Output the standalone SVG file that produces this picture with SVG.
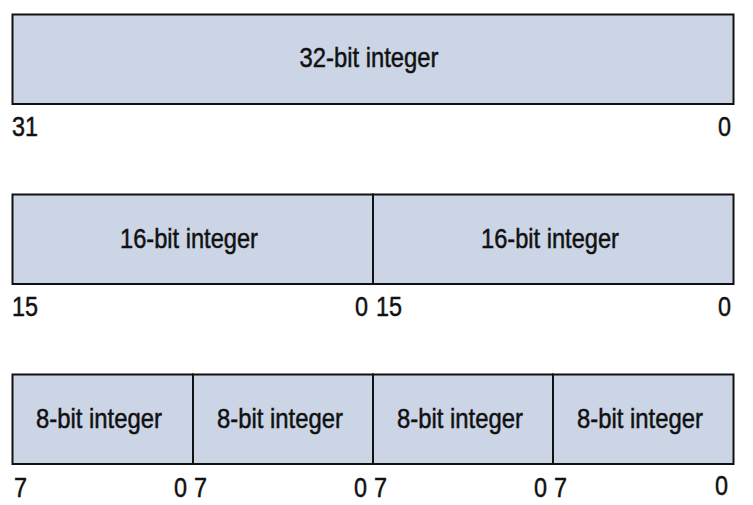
<svg xmlns="http://www.w3.org/2000/svg" width="753" height="505" viewBox="0 0 753 505">
  <style>
    .cell { fill: #cbd5e6; stroke: #111; stroke-width: 2; }
    .lbl, .num { font-family: "Liberation Sans", Arial, sans-serif; font-size: 28px; fill: #111; stroke: #111; stroke-width: 0.5; }
    .lbl { text-anchor: middle; }
    .end { text-anchor: end; }
  </style>
  <rect width="753" height="505" fill="#ffffff"/>

  <!-- 32-bit row -->
  <g id="int32">
    <rect class="cell" x="12.5" y="14.5" width="721" height="89.5"/>
    <text class="lbl" x="369" y="67" textLength="139" lengthAdjust="spacingAndGlyphs">32-bit integer</text>
    <text class="num" x="12" y="136" textLength="26" lengthAdjust="spacingAndGlyphs">31</text>
    <text class="num end" x="731" y="136" textLength="13" lengthAdjust="spacingAndGlyphs">0</text>
  </g>

  <!-- 16-bit row -->
  <g id="int16-high">
    <rect class="cell" x="12.5" y="194.5" width="360.5" height="89.5"/>
    <text class="lbl" x="189" y="248" textLength="138" lengthAdjust="spacingAndGlyphs">16-bit integer</text>
    <text class="num" x="12" y="316" textLength="26" lengthAdjust="spacingAndGlyphs">15</text>
    <text class="num end" x="368" y="316" textLength="13" lengthAdjust="spacingAndGlyphs">0</text>
  </g>
  <g id="int16-low">
    <rect class="cell" x="373" y="194.5" width="360.5" height="89.5"/>
    <text class="lbl" x="550" y="248" textLength="138" lengthAdjust="spacingAndGlyphs">16-bit integer</text>
    <text class="num" x="376" y="316" textLength="26" lengthAdjust="spacingAndGlyphs">15</text>
    <text class="num end" x="731" y="316" textLength="13" lengthAdjust="spacingAndGlyphs">0</text>
  </g>

  <!-- 8-bit row -->
  <g id="int8-a">
    <rect class="cell" x="12.5" y="374.5" width="180.5" height="89.5"/>
    <text class="lbl" x="99" y="428" textLength="126" lengthAdjust="spacingAndGlyphs">8-bit integer</text>
    <text class="num" x="14" y="497" textLength="13" lengthAdjust="spacingAndGlyphs">7</text>
    <text class="num end" x="187" y="497" textLength="13" lengthAdjust="spacingAndGlyphs">0</text>
  </g>
  <g id="int8-b">
    <rect class="cell" x="193" y="374.5" width="180" height="89.5"/>
    <text class="lbl" x="280" y="428" textLength="126" lengthAdjust="spacingAndGlyphs">8-bit integer</text>
    <text class="num" x="194" y="497" textLength="13" lengthAdjust="spacingAndGlyphs">7</text>
    <text class="num end" x="367" y="497" textLength="13" lengthAdjust="spacingAndGlyphs">0</text>
  </g>
  <g id="int8-c">
    <rect class="cell" x="373" y="374.5" width="180" height="89.5"/>
    <text class="lbl" x="460" y="428" textLength="126" lengthAdjust="spacingAndGlyphs">8-bit integer</text>
    <text class="num" x="374" y="497" textLength="13" lengthAdjust="spacingAndGlyphs">7</text>
    <text class="num end" x="547" y="497" textLength="13" lengthAdjust="spacingAndGlyphs">0</text>
  </g>
  <g id="int8-d">
    <rect class="cell" x="553" y="374.5" width="180.5" height="89.5"/>
    <text class="lbl" x="640" y="428" textLength="126" lengthAdjust="spacingAndGlyphs">8-bit integer</text>
    <text class="num" x="554" y="497" textLength="13" lengthAdjust="spacingAndGlyphs">7</text>
    <text class="num end" x="728" y="495" textLength="13" lengthAdjust="spacingAndGlyphs">0</text>
  </g>

  <g id="connectors"/>
</svg>
